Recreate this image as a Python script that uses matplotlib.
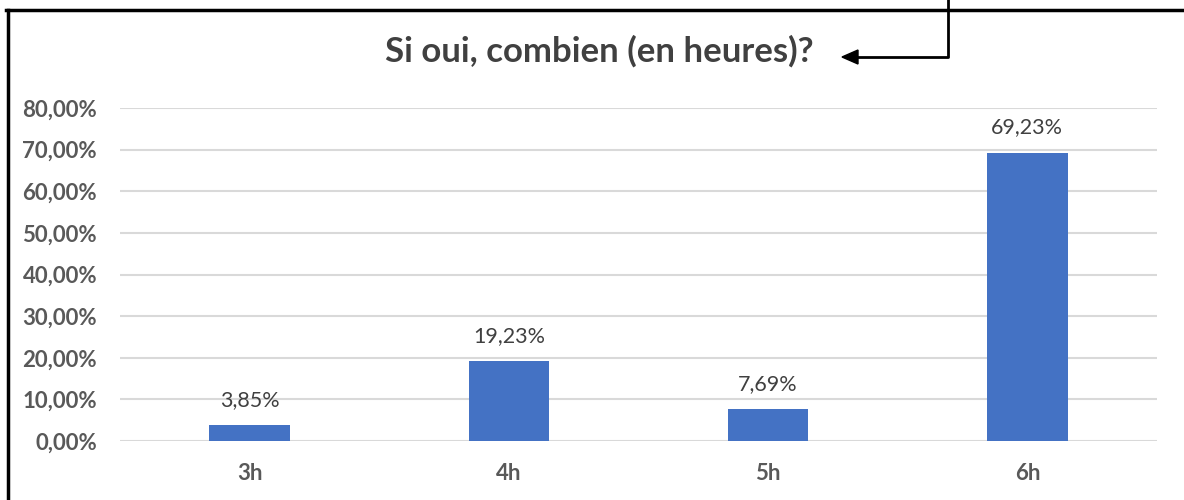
import matplotlib
matplotlib.use("Agg")
import matplotlib.pyplot as plt
from matplotlib.ticker import FuncFormatter, MultipleLocator

categories = ["3h", "4h", "5h", "6h"]
values = [3.85, 19.23, 7.69, 69.23]
title = "Si oui, combien (en heures)?"

plt.rcParams['font.family'] = ['Lato', 'DejaVu Sans']

W, H = 1184, 500
fig = plt.figure(figsize=(W / 100, H / 100), dpi=100)

# plot area in pixels
x0, x1 = 120, 1157
y0, y1 = 441, 108  # 0% and 80%
ax = fig.add_axes([x0 / W, 1 - y0 / H, (x1 - x0) / W, (y0 - y1) / H])

bars = ax.bar(range(len(categories)), values, width=0.31, color="#4472C4", zorder=3)
ax.set_xlim(-0.5, len(categories) - 0.5)
ax.set_ylim(0, 80)
ax.yaxis.set_major_locator(MultipleLocator(10))
ax.yaxis.set_major_formatter(FuncFormatter(lambda v, p: f"{v:.2f}%".replace(".", ",")))
ax.grid(axis="y", color="#D9D9D9", linewidth=1.5, zorder=0)
for s in ax.spines.values():
    s.set_visible(False)
ax.tick_params(axis="both", length=0)
ax.tick_params(axis="y", pad=16.5)
ax.tick_params(axis="x", pad=16)
ax.set_xticks(range(len(categories)))
ax.set_xticklabels(categories)
for lbl in ax.get_xticklabels() + ax.get_yticklabels():
    lbl.set_fontsize(16)
    lbl.set_fontweight("bold")
    lbl.set_color("#595959")

for i, v in enumerate(values):
    ax.annotate(f"{v:.2f}%".replace(".", ","), (i, v), xytext=(0, 11),
                textcoords="offset points", ha="center", va="bottom",
                fontsize=15.5, color="#404040")

fig.text(599 / W, 1 - 51 / H, title, ha="center", va="center",
         fontsize=25, fontweight="bold", color="#404040")

# border lines and arrow (figure pixel coordinates)
def fx(px):
    return px / W

def fy(py):
    return 1 - py / H

fig.add_artist(plt.Line2D([fx(6), fx(1184)], [fy(10), fy(10)], color="black", lw=2.5,
                          transform=fig.transFigure))
fig.add_artist(plt.Line2D([fx(8), fx(8)], [fy(10), fy(500)], color="black", lw=2.5,
                          transform=fig.transFigure))
fig.add_artist(plt.Line2D([fx(948), fx(948), fx(855)], [fy(0), fy(57), fy(57)],
                          color="black", lw=2, transform=fig.transFigure))
fig.patches.append(plt.Polygon([[fx(842), fy(57)], [fx(858), fy(50)], [fx(858), fy(64)]],
                               closed=True, color="black", transform=fig.transFigure))

fig.savefig("out.png", dpi=100)
